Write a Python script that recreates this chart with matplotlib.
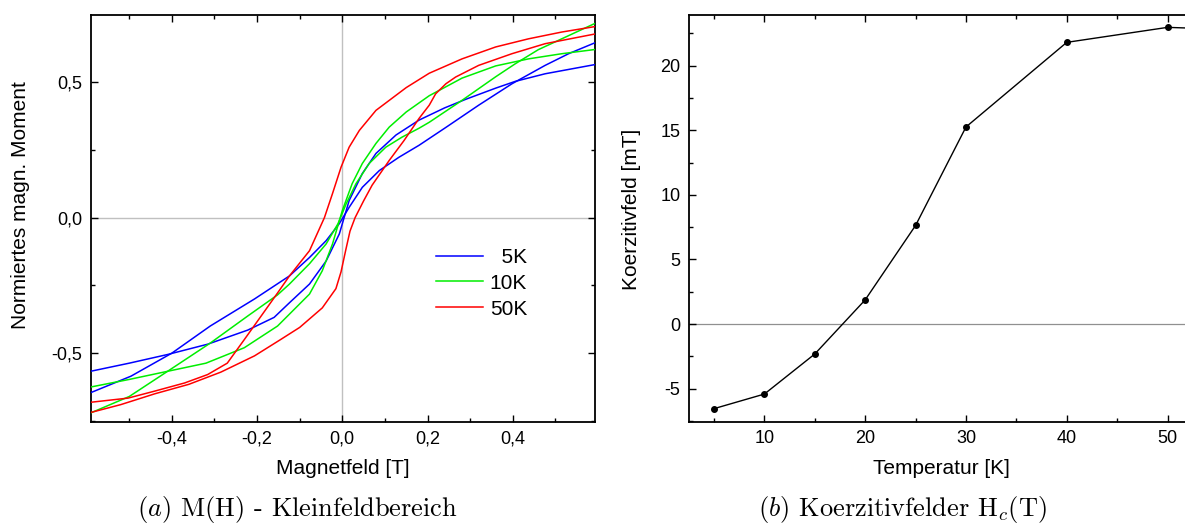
import matplotlib
matplotlib.use("Agg")
import matplotlib.pyplot as plt
from matplotlib.ticker import MultipleLocator, FuncFormatter

plt.rcParams['font.family'] = ['Liberation Sans', 'DejaVu Sans']
plt.rcParams['mathtext.fontset'] = 'cm'
plt.rcParams['axes.unicode_minus'] = False

# ---- M(H) loops, low-field region (field in T, normalised moment) ----
# 5 K
field_5k_a = [-0.60, -0.496, -0.40, -0.31, -0.206, -0.124, -0.077, -0.038, -0.007, 0.016,
              0.047, 0.087, 0.133, 0.18, 0.243, 0.32, 0.398, 0.476, 0.531, 0.60]
moment_5k_a = [-0.652, -0.585, -0.50, -0.40, -0.30, -0.215, -0.147, -0.085, -0.022, 0.038,
               0.112, 0.174, 0.223, 0.267, 0.333, 0.415, 0.494, 0.562, 0.605, 0.650]
field_5k_b = [-0.60, -0.50, -0.41, -0.316, -0.222, -0.16, -0.124, -0.077, -0.038, -0.007,
              0.016, 0.047, 0.079, 0.126, 0.18, 0.24, 0.29, 0.36, 0.406, 0.476, 0.60]
moment_5k_b = [-0.570, -0.537, -0.505, -0.467, -0.415, -0.368, -0.314, -0.245, -0.16, -0.06,
               0.063, 0.163, 0.237, 0.305, 0.36, 0.405, 0.437, 0.478, 0.503, 0.531, 0.567]

# 10 K
field_10k_a = [-0.60, -0.50, -0.41, -0.31, -0.222, -0.152, -0.124, -0.077, -0.038, -0.01,
               0.009, 0.032, 0.063, 0.102, 0.14, 0.18, 0.204, 0.281, 0.36, 0.406, 0.46,
               0.515, 0.60]
moment_10k_a = [-0.727, -0.66, -0.567, -0.463, -0.363, -0.285, -0.245, -0.17, -0.097, -0.022,
                0.051, 0.125, 0.2, 0.26, 0.297, 0.33, 0.352, 0.433, 0.52, 0.568, 0.62,
                0.66, 0.722]
field_10k_b = [-0.60, -0.50, -0.41, -0.32, -0.23, -0.152, -0.124, -0.077, -0.047, -0.023,
               0.0, 0.023, 0.047, 0.079, 0.11, 0.15, 0.204, 0.281, 0.36, 0.437, 0.515, 0.60]
moment_10k_b = [-0.628, -0.597, -0.567, -0.537, -0.48, -0.40, -0.356, -0.282, -0.196, -0.097,
                0.026, 0.125, 0.2, 0.274, 0.334, 0.39, 0.45, 0.515, 0.56, 0.586, 0.605, 0.622]

# 50 K
field_50k_a = [-0.60, -0.503, -0.44, -0.37, -0.316, -0.27, -0.23, -0.19, -0.152, -0.124,
               -0.077, -0.042, -0.023, -0.003, 0.016, 0.04, 0.079, 0.15, 0.204, 0.281,
               0.36, 0.437, 0.515, 0.60]
moment_50k_a = [-0.683, -0.666, -0.64, -0.61, -0.579, -0.537, -0.45, -0.362, -0.278, -0.215,
                -0.122, 0.0, 0.089, 0.186, 0.26, 0.322, 0.396, 0.48, 0.533, 0.586,
                0.63, 0.66, 0.685, 0.707]
field_50k_b = [-0.60, -0.52, -0.44, -0.36, -0.285, -0.206, -0.145, -0.10, -0.047, -0.015,
               -0.003, 0.008, 0.018, 0.03, 0.05, 0.07, 0.11, 0.145, 0.18, 0.204, 0.219,
               0.243, 0.266, 0.32, 0.398, 0.476, 0.60]
moment_50k_b = [-0.723, -0.69, -0.65, -0.615, -0.57, -0.51, -0.45, -0.405, -0.333, -0.262,
                -0.2, -0.12, -0.05, 0.0, 0.062, 0.12, 0.211, 0.285, 0.366, 0.415, 0.457,
                0.494, 0.519, 0.562, 0.605, 0.642, 0.680]

loop_labels = ['  5K', '10K', '50K']
loop_colors = ['#0000ff', '#00ee00', '#ff0000']

# ---- coercive field vs temperature ----
temperature = [5, 10, 15, 20, 25, 30, 40, 50, 60]
coercive_field = [-6.55, -5.42, -2.32, 1.87, 7.63, 15.25, 21.8, 22.96, 22.7]

W, H = 1185, 524
fig = plt.figure(figsize=(W / 100, H / 100), dpi=100)

ax1 = fig.add_axes([90.9 / W, 1 - 421.7 / H, 504.1 / W, 407 / H])
# the right panel runs past the figure edge, its right spine is cut off
ax2 = fig.add_axes([688.8 / W, 1 - 421.7 / H, 509 / W, 407 / H])


def comma(fmt):
    return FuncFormatter(lambda v, p: (fmt % v).replace('.', ','))


def style_axes(ax):
    for s in ax.spines.values():
        s.set_linewidth(1.3)
    ax.tick_params(which='both', direction='in', top=True, right=True,
                   labelsize=13, width=1.0, colors='black')
    ax.tick_params(which='major', length=5.2)
    ax.tick_params(which='minor', length=2.8)


# left panel
ax1.axhline(0, color='#c0c0c0', lw=1.0, zorder=1)
ax1.axvline(0, color='#c0c0c0', lw=1.0, zorder=1)
branches = [
    (field_5k_a, moment_5k_a, field_5k_b, moment_5k_b),
    (field_10k_a, moment_10k_a, field_10k_b, moment_10k_b),
    (field_50k_a, moment_50k_a, field_50k_b, moment_50k_b),
]
for (ha, ma, hb, mb), lab, col in zip(branches, loop_labels, loop_colors):
    ax1.plot(ha, ma, color=col, lw=1.1, label=lab, zorder=3)
    ax1.plot(hb, mb, color=col, lw=1.1, zorder=3)

ax1.set_xlim(-0.59, 0.593)
ax1.set_ylim(-0.753, 0.749)
ax1.xaxis.set_major_locator(MultipleLocator(0.2))
ax1.xaxis.set_minor_locator(MultipleLocator(0.1))
ax1.yaxis.set_major_locator(MultipleLocator(0.5))
ax1.yaxis.set_minor_locator(MultipleLocator(0.25))
ax1.xaxis.set_major_formatter(comma('%.1f'))
ax1.yaxis.set_major_formatter(comma('%.1f'))
style_axes(ax1)
ax1.tick_params(axis='x', pad=6)
ax1.tick_params(axis='y', pad=6)
ax1.set_xlabel('Magnetfeld [T]', fontsize=15)
ax1.set_ylabel('Normiertes magn. Moment', fontsize=15)
ax1.xaxis.set_label_coords(0.5, -0.092)
ax1.yaxis.set_label_coords(-0.121, 0.532)

ax1.legend(loc='upper left', bbox_to_anchor=(0.6846, 0.427), frameon=False,
           fontsize=15, handlelength=2.25, handletextpad=0.33, labelspacing=0.33,
           borderpad=0, borderaxespad=0)

# right panel
ax2.axhline(0, color='#909090', lw=0.9, zorder=1)
ax2.plot(temperature, coercive_field, color='black', lw=1.0, marker='o', ms=4,
         zorder=3)
ax2.set_xlim(2.5, 53)
ax2.set_ylim(-7.56, 23.94)
ax2.xaxis.set_major_locator(MultipleLocator(10))
ax2.xaxis.set_minor_locator(MultipleLocator(5))
ax2.yaxis.set_major_locator(MultipleLocator(5))
ax2.yaxis.set_minor_locator(MultipleLocator(2.5))
style_axes(ax2)
ax2.tick_params(axis='x', pad=6)
ax2.tick_params(axis='y', pad=6)
ax2.set_xlabel('Temperatur [K]', fontsize=15)
ax2.set_ylabel('Koerzitivfeld [mT]', fontsize=15)
ax2.xaxis.set_label_coords(0.497, -0.092)
ax2.yaxis.set_label_coords(-0.094, 0.5226)

# sub-captions
fig.text(297 / W, 1 - 516 / H, r'$\mathit{(a)}$ M(H) - Kleinfeldbereich',
         family='cmr10', fontsize=19, ha='center', va='baseline')
fig.text(902 / W, 1 - 516 / H, r'$\mathit{(b)}$ Koerzitivfelder H$_c$(T)',
         family='cmr10', fontsize=19, ha='center', va='baseline')

fig.savefig('out.png', dpi=100)
